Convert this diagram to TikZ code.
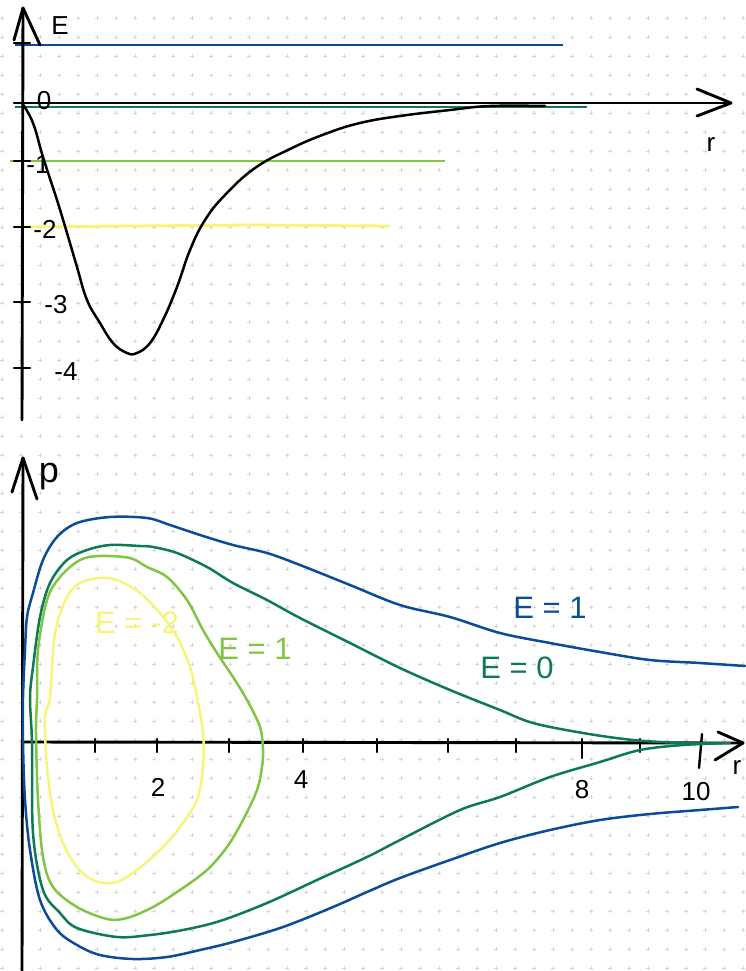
\documentclass[tikz,border=0pt]{standalone}
\usepackage{fontspec}
\setmainfont{Liberation Sans}
\usetikzlibrary{positioning}
\definecolor{sketchBlue}{HTML}{0B4C98}
\definecolor{sketchTeal}{HTML}{0B7A55}
\definecolor{sketchLime}{HTML}{80C644}
\definecolor{sketchYellow}{HTML}{F6F57A}
\definecolor{sketchDot}{HTML}{D6D6D6}

\begin{document}
\begin{tikzpicture}[x=1pt,y=-1pt,axis/.style={line width=2.9pt,line cap=round,line join=round,black},level/.style={line width=2.8pt},orbit/.style={line width=2.5pt,line join=round,line cap=round},dotmark/.style={sketchDot,line width=0.5pt},tickmark/.style={line width=2.4pt,line cap=round},lbl/.style={font=\fontsize{26}{30}\selectfont,inner sep=0pt},tag/.style={font=\fontsize{31}{35}\selectfont,inner sep=0pt}]
\useasboundingbox (0,0) rectangle (745,971);
% dotted paper
\foreach \gx in {2,21,...,743}
  \foreach \gy in {18,37,...,970}
    \draw[dotmark] ({\gx-2},\gy) -- ({\gx+2},\gy) (\gx,{\gy-2}) -- (\gx,{\gy+2});

% ---- upper plot: potential and energy levels ----
\coordinate (eBot) at (22,420);
\coordinate (eTop) at (23,8);
\coordinate (rLeft) at (15,103);
\coordinate (rRight) at (731,103);
\draw[level,sketchBlue] (15,45) -- (563,45);
\draw[level,sketchTeal] (15,107) -- (587,107);
\draw[level,sketchLime] (10,161) -- (445,161);
\draw[level,sketchYellow] (14,227) -- (250,225) -- (390,226);
\draw[axis] (eBot) -- (eTop);
\draw[axis] (14,40) -- (eTop) -- (40,45);
\draw[axis] (rLeft) -- (rRight);
\draw[axis] (697,89) -- (rRight) -- (697,116);
\foreach \ty in {43,103,161,227,302,368}
  \draw[tickmark] (14,\ty) -- (30,\ty);
\draw[orbit,black] plot[smooth,tension=0.7] coordinates {(22,103) (33,123) (43,157) (57,200) (67,233) (77,267) (87,300) (100,323) (113,343) (127,353) (137,353) (150,343) (163,320) (177,287) (190,250) (205,220) (225,195) (255,168) (290,149) (325,134) (360,123) (400,116) (450,110) (490,106) (545,106)};
\node[lbl] (labE) at (60,26) {E};
\node[lbl] (lab0) at (44,101) {0};
\node[lbl] (labM1) at (38,165) {-1};
\node[lbl] (labM2) at (45,229) {-2};
\node[lbl] (labM3) at (56,305) {-3};
\node[lbl] (labM4) at (66,372) {-4};
\node[lbl] (labR) at (711,145) {r};

% ---- lower plot: phase space orbits ----
\coordinate (pBot) at (22,971);
\coordinate (pTop) at (23,458);
\coordinate (qLeft) at (22,742);
\coordinate (qRight) at (743,743);
\draw[axis] (pBot) -- (pTop);
\draw[axis] (12,492) -- (pTop) -- (37,499);
\draw[axis] (qLeft) -- (qRight);
\draw[axis] (718,732) -- (qRight) -- (715,760);
\foreach \tx in {95,157,229,303,377,448,516,640}
  \draw[tickmark] (\tx,739) -- (\tx,752);
\draw[tickmark] (582,739) -- (582,758);
\draw[tickmark] (702,734) -- (699,768);
\node[font=\fontsize{36}{40}\selectfont,inner sep=0pt] (labP) at (49,477) {p};
\node[lbl] (lab2) at (158,787) {2};
\node[lbl] (lab4) at (301,780) {4};
\node[lbl] (lab8) at (582,790) {8};
\node[lbl] (lab10) at (696,792) {10};
\node[lbl] (labQ) at (737,767) {r};

% E = 1
\draw[orbit,sketchBlue] plot[smooth,tension=0.55] coordinates {(745,666) (700,663) (650,660) (600,652) (550,643) (500,633) (450,617) (400,605) (350,585) (300,565) (267,553) (233,545) (200,535) (170,525) (147,518) (110,517) (77,523) (57,537) (43,560) (33,593) (27,617) (25,650) (23,697) (23,743) (25,800) (30,850) (40,900) (57,930) (77,945) (100,955) (133,959) (167,957) (200,950) (233,942) (283,927) (333,907) (367,892) (400,878) (450,860) (500,843) (550,830) (600,820) (650,814) (700,810) (738,807)};
% E = 0
\draw[orbit,sketchTeal] plot[smooth,tension=0.55] coordinates {(720,743) (683,743) (633,740) (583,733) (533,723) (500,710) (450,690) (400,668) (350,643) (300,618) (267,600) (233,583) (207,567) (177,553) (153,547) (140,546) (110,545) (87,550) (67,560) (50,583) (40,617) (33,667) (30,698) (32,743) (33,833) (43,890) (60,913) (77,928) (117,937) (150,935) (183,930) (220,921) (267,903) (317,880) (367,857) (400,840) (460,810) (500,797) (550,777) (600,762) (640,750) (683,745) (730,743)};
% E = -1
\draw[orbit,sketchLime] plot[smooth cycle,tension=0.55] coordinates {(37,698) (38,650) (47,600) (60,577) (80,560) (100,556) (130,558) (147,567) (167,577) (187,600) (203,630) (217,653) (233,677) (247,700) (260,727) (263,750) (262,767) (257,790) (243,820) (227,847) (207,870) (180,890) (153,907) (127,918) (107,919) (77,907) (53,887) (43,857) (38,800) (36,733)};
% E = -2
\draw[orbit,sketchYellow] plot[smooth cycle,tension=0.55] coordinates {(50,698) (55,633) (67,597) (80,583) (100,578) (117,580) (140,593) (160,613) (177,637) (190,667) (197,697) (203,733) (203,767) (197,800) (180,827) (160,850) (133,873) (113,883) (93,880) (77,867) (63,843) (53,810) (47,767) (45,717)};
\node[tag,text=sketchBlue] (tagOne) at (550,608) {E = 1};
\node[tag,text=sketchTeal] (tagZero) at (517,668) {E = 0};
\node[tag,text=sketchLime] (tagLime) at (255,649) {E = 1};
\node[tag,text=sketchYellow] (tagYellow) at (137,623) {E = -2};
\end{tikzpicture}
\end{document}
